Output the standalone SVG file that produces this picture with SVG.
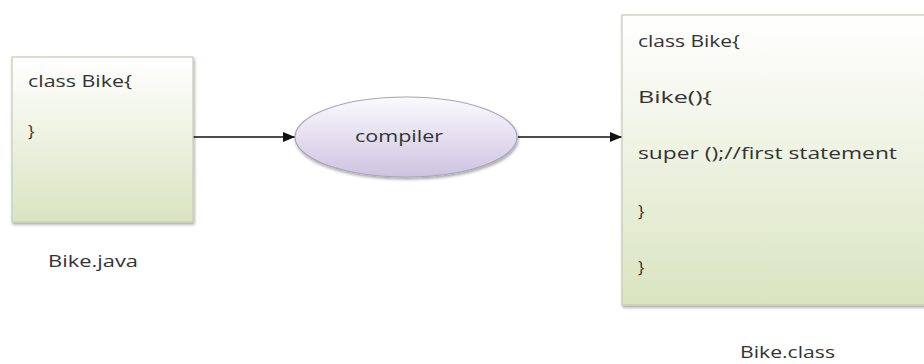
<svg xmlns="http://www.w3.org/2000/svg" width="924" height="364" viewBox="0 0 924 364">
<defs>
<linearGradient id="gBox" x1="0" y1="0" x2="0" y2="1">
<stop offset="0" stop-color="#ffffff"/>
<stop offset="0.35" stop-color="#f3f6ea"/>
<stop offset="1" stop-color="#d9e4c0"/>
</linearGradient>
<linearGradient id="gEll" x1="0" y1="0" x2="0" y2="1">
<stop offset="0" stop-color="#fbfaff"/>
<stop offset="1" stop-color="#cdc3e0"/>
</linearGradient>
<filter id="sh" x="-10%" y="-10%" width="130%" height="130%">
<feGaussianBlur in="SourceAlpha" stdDeviation="1.5"/>
<feOffset dx="1" dy="2" result="b"/>
<feComponentTransfer><feFuncA type="linear" slope="0.35"/></feComponentTransfer>
<feMerge><feMergeNode/><feMergeNode in="SourceGraphic"/></feMerge>
</filter>
<marker id="arr" markerWidth="12" markerHeight="10" refX="12" refY="5" orient="auto" markerUnits="userSpaceOnUse">
<path d="M0,0 L12,5 L0,10 Z" fill="#111"/>
</marker>
</defs>
<style>
.box{fill:url(#gBox);stroke:#c5ccb8;stroke-width:1.2}
.ell{fill:url(#gEll);stroke:#a9a6b6;stroke-width:1.2}
.t{font-family:"Open Sans","DejaVu Sans",sans-serif;font-size:17px;fill:#333}
.ln{stroke:#111;stroke-width:1.5;fill:none}
</style>
<rect width="924" height="364" fill="#ffffff"/>
<g id="connectors">
<line class="ln" x1="193" y1="137" x2="295" y2="137" marker-end="url(#arr)"/>
<line class="ln" x1="518" y1="137" x2="622" y2="137" marker-end="url(#arr)"/>
</g>
<g id="bike-java">
<rect class="box" x="12" y="57" width="181" height="165" filter="url(#sh)"/>
<text class="t" x="28" y="87" textLength="104" lengthAdjust="spacingAndGlyphs">class Bike{</text>
<text class="t" x="28" y="137">}</text>
</g>
<g id="bike-java-label">
<text class="t" x="48" y="267" textLength="90" lengthAdjust="spacingAndGlyphs">Bike.java</text>
</g>
<g id="compiler">
<ellipse class="ell" cx="406" cy="137" rx="111" ry="40" filter="url(#sh)"/>
<text class="t" x="355" y="142" textLength="88" lengthAdjust="spacingAndGlyphs">compiler</text>
</g>
<g id="bike-class">
<rect class="box" x="622" y="15" width="320" height="290" filter="url(#sh)"/>
<text class="t" x="638" y="47" textLength="102" lengthAdjust="spacingAndGlyphs">class Bike{</text>
<text class="t" x="638" y="103" textLength="74" lengthAdjust="spacingAndGlyphs">Bike(){</text>
<text class="t" x="638" y="159" textLength="259" lengthAdjust="spacingAndGlyphs">super ();//first statement</text>
<text class="t" x="638" y="217">}</text>
<text class="t" x="638" y="273">}</text>
</g>
<g id="bike-class-label">
<text class="t" x="740" y="358" textLength="95" lengthAdjust="spacingAndGlyphs">Bike.class</text>
</g>
</svg>
